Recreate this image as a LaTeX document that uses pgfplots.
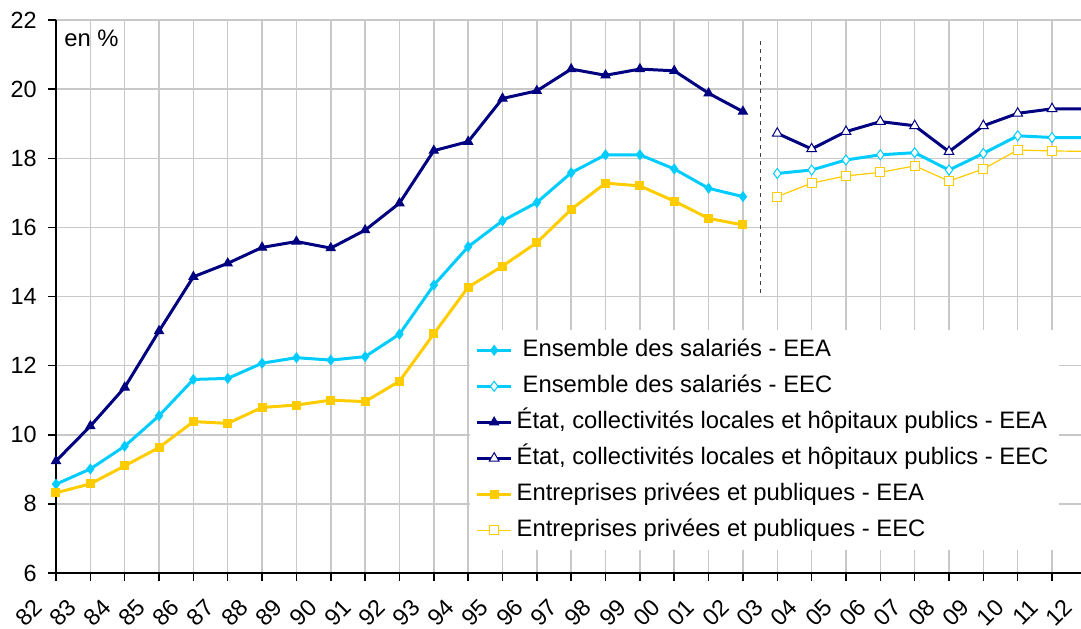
\documentclass[border=0pt]{standalone}
\usepackage{pgfplots}
\pgfplotsset{compat=1.18}
\usepackage{fontspec}
\setmainfont{Liberation Sans}
\definecolor{navyc}{RGB}{0,0,128}
\definecolor{cyanc}{RGB}{0,204,255}
\definecolor{yellowc}{RGB}{255,204,0}
\definecolor{gridc}{RGB}{200,200,200}
\begin{document}
\begin{tikzpicture}
\begin{axis}[
  width=515.2pt, height=276.5pt, scale only axis,
  xmin=0, xmax=30, ymin=6, ymax=22,
  axis x line*=bottom, axis y line*=left,
  axis line style={black, line width=0.75pt, -},
  xtick={0,...,30},
  xticklabels={82,83,84,85,86,87,88,89,90,91,92,93,94,95,96,97,98,99,00,01,02,03,04,05,06,07,08,09,10,11,12},
  ytick={6,8,...,22},
  grid=major, grid style={gridc, line width=0.75pt},
  tick align=outside, major tick length=4pt,
  tick style={black, line width=0.75pt},
  /pgf/number format/assume math mode=true,
  ticklabel style={font=\fontsize{11.7}{14}\selectfont},
  xticklabel style={xshift=-12pt, yshift=-8pt, rotate=45, anchor=north east, inner sep=0pt},
  yticklabel style={inner sep=0pt, xshift=-5.5pt},
  legend style={at={(rel axis cs:0.401,0.44)}, anchor=north west, draw=none, fill=white,
    inner xsep=3pt, inner ysep=3pt, font=\fontsize{11.9}{14}\selectfont, row sep=3.8pt,
    nodes={inner ysep=1.5pt, inner xsep=2pt, text height=8.6pt, text depth=2.6pt}},
  legend cell align=left,
]
\addplot[cyanc, line width=1.5pt, mark=diamond*, mark size=2.4pt, mark options={solid, fill=cyanc, draw=cyanc, line width=0.5pt}]
 coordinates {(0,8.57)(1,9.01)(2,9.67)(3,10.55)(4,11.60)(5,11.63)(6,12.07)(7,12.23)(8,12.16)(9,12.26)(10,12.91)(11,14.33)(12,15.44)(13,16.19)(14,16.72)(15,17.58)(16,18.10)(17,18.10)(18,17.69)(19,17.13)(20,16.89)};
\addlegendentry{\hspace{3pt}Ensemble des salariés - EEA}
\addplot[cyanc, line width=1.5pt, mark=diamond*, mark size=2.5pt, mark options={solid, fill=white, draw=cyanc, line width=0.5pt}]
 coordinates {(21,17.56)(22,17.66)(23,17.95)(24,18.10)(25,18.16)(26,17.66)(27,18.14)(28,18.65)(29,18.60)(30,18.60)};
\addlegendentry{\hspace{3pt}Ensemble des salariés - EEC}
\addplot[navyc, line width=1.5pt, mark=triangle*, mark size=2.6pt, mark options={solid, fill=navyc, draw=navyc, line width=0.5pt}]
 coordinates {(0,9.24)(1,10.25)(2,11.37)(3,13.0)(4,14.57)(5,14.96)(6,15.42)(7,15.59)(8,15.40)(9,15.92)(10,16.70)(11,18.22)(12,18.48)(13,19.73)(14,19.95)(15,20.58)(16,20.40)(17,20.58)(18,20.53)(19,19.88)(20,19.35)};
\addlegendentry{État, collectivités locales et hôpitaux publics - EEA}
\addplot[navyc, line width=1.5pt, mark=triangle*, mark size=2.8pt, mark options={solid, fill=white, draw=navyc, line width=0.5pt}]
 coordinates {(21,18.72)(22,18.27)(23,18.77)(24,19.06)(25,18.94)(26,18.19)(27,18.94)(28,19.30)(29,19.43)(30,19.43)};
\addlegendentry{État, collectivités locales et hôpitaux publics - EEC}
\addplot[yellowc, line width=1.5pt, mark=square*, mark size=2pt, mark options={solid, fill=yellowc, draw=yellowc, line width=0.5pt}]
 coordinates {(0,8.32)(1,8.58)(2,9.10)(3,9.63)(4,10.38)(5,10.33)(6,10.79)(7,10.86)(8,11.00)(9,10.96)(10,11.55)(11,12.92)(12,14.27)(13,14.88)(14,15.56)(15,16.52)(16,17.28)(17,17.20)(18,16.76)(19,16.26)(20,16.07)};
\addlegendentry{Entreprises privées et publiques - EEA}
\addplot[yellowc, line width=0.6pt, mark=square*, mark size=2.25pt, mark options={solid, fill=white, draw=yellowc, line width=0.5pt}]
 coordinates {(21,16.89)(22,17.28)(23,17.49)(24,17.59)(25,17.78)(26,17.34)(27,17.69)(28,18.24)(29,18.21)(30,18.20)};
\addlegendentry{Entreprises privées et publiques - EEC}
\addplot[forget plot, darkgray, line width=0.6pt, dash pattern=on 2pt off 2pt] coordinates {(20.5,14.1)(20.5,21.5)};
\node[anchor=west, inner sep=0pt, font=\fontsize{11.9}{14}\selectfont] at (axis cs:0.233,21.48) {en \%};
\end{axis}
\pgfresetboundingbox
\path (current axis.south west) ++(-28pt,-27.5pt) rectangle ++(540.5pt,314pt);
\end{tikzpicture}
\end{document}
